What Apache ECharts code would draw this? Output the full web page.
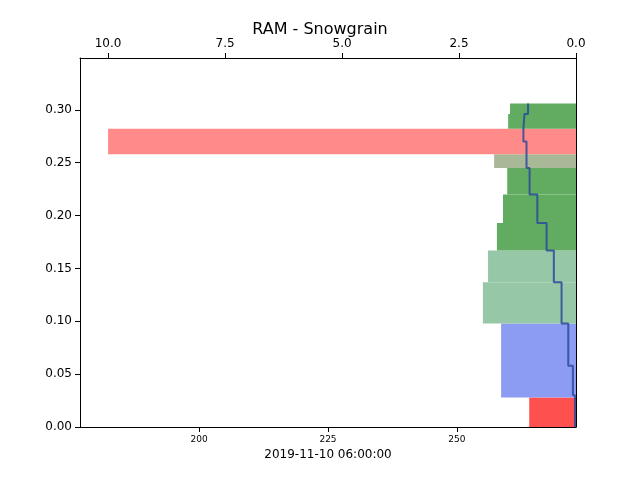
<!DOCTYPE html>
<html><head><meta charset="utf-8">
<script src="https://cdn.jsdelivr.net/npm/echarts@6/dist/echarts.min.js"></script>
<style>html,body{margin:0;padding:0;background:#fff}#c{width:640px;height:480px}</style>
</head><body><div id="c"></div>
<script>
// Layers: bottom/top heights, RAM hardness (top axis), colours by grain type
const layerBottom = [0.000, 0.028, 0.098, 0.137, 0.167, 0.193, 0.220, 0.245, 0.258, 0.282, 0.296];
const layerTop    = [0.028, 0.098, 0.137, 0.167, 0.193, 0.220, 0.245, 0.258, 0.282, 0.296, 0.306];
const hardness    = [1.00, 1.60, 1.99, 1.88, 1.69, 1.56, 1.47, 1.75, 10.0, 1.45, 1.41];
const layerColors = ['#ff5050','#8c9cf2','#96c8a8','#96c8a8','#62ac62','#62ac62','#62ac62','#a9b897','#ff8a8a','#62ac62','#62ac62'];
// Temperature profile (bottom axis) as steps
const tempBottom = [0.000, 0.030, 0.058, 0.098, 0.137, 0.167, 0.193, 0.220, 0.245, 0.270, 0.282, 0.296];
const tempTop    = [0.030, 0.058, 0.098, 0.137, 0.167, 0.193, 0.220, 0.245, 0.270, 0.282, 0.296, 0.306];
const tempValues = [272.9, 272.5, 271.6, 270.3, 268.8, 267.4, 265.6, 264.1, 263.5, 262.9, 263.1, 263.8];
const bottomTicks = [200, 225, 250];

const barData = layerBottom.map((b,i)=>[hardness[i], b, layerTop[i], i]);
const linePts = [];
tempValues.forEach((t,i)=>{ linePts.push([t, tempBottom[i]]); linePts.push([t, tempTop[i]]); });

const chart = echarts.init(document.getElementById('c'));
chart.setOption({
  animation:false,
  title:{text:'RAM - Snowgrain', left:'center', top:17, textStyle:{fontFamily:'DejaVu Sans', fontSize:16, fontWeight:'normal', color:'#000'}},
  grid:{left:80, right:64, top:58, bottom:53},
  xAxis:[
    {type:'value', position:'bottom', min:176.9, max:273.1,
     name:'2019-11-10 06:00:00', nameLocation:'middle', nameGap:22,
     nameTextStyle:{fontFamily:'DejaVu Sans', fontSize:12, color:'#000'},
     splitLine:{show:false}, axisLine:{onZero:false, lineStyle:{color:'#000'}},
     axisTick:{customValues:bottomTicks, lineStyle:{color:'#000'}},
     axisLabel:{customValues:bottomTicks, fontFamily:'DejaVu Sans', fontSize:9, color:'#000'}},
    {type:'value', position:'top', inverse:true, min:0, max:10.6, interval:2.5,
     splitLine:{show:false}, axisLine:{onZero:false, lineStyle:{color:'#000'}},
     axisTick:{lineStyle:{color:'#000'}},
     axisLabel:{showMaxLabel:false, formatter:v=>v.toFixed(1), fontFamily:'DejaVu Sans', fontSize:12, color:'#000'}}
  ],
  yAxis:[
    {type:'value', position:'left', min:0, max:0.349, interval:0.05, splitLine:{show:false},
     axisLine:{show:true, onZero:false, lineStyle:{color:'#000'}}, axisTick:{show:true, lineStyle:{color:'#000'}},
     axisLabel:{showMaxLabel:false, formatter:v=>v.toFixed(2), fontFamily:'DejaVu Sans', fontSize:12, color:'#000'}},
    {type:'value', position:'right', min:0, max:0.349, splitLine:{show:false},
     axisLine:{show:true, onZero:false, lineStyle:{color:'#000'}}, axisTick:{show:false}, axisLabel:{show:false}}
  ],
  series:[
    {type:'custom', xAxisIndex:1, yAxisIndex:0, data:barData,
     renderItem:(params, api)=>{
       const p1 = api.coord([0, api.value(2)]);
       const p2 = api.coord([api.value(0), api.value(1)]);
       const x = Math.min(p1[0],p2[0]), y = Math.min(p1[1],p2[1]);
       return {type:'rect', shape:{x:x, y:y, width:Math.abs(p1[0]-p2[0]), height:Math.abs(p1[1]-p2[1])},
               style:{fill:layerColors[api.value(3)]}};
     }},
    {type:'line', xAxisIndex:0, yAxisIndex:0, data:linePts, showSymbol:false,
     lineStyle:{color:'#2a4a9a', width:2, opacity:0.85}}
  ]
});
</script></body></html>
